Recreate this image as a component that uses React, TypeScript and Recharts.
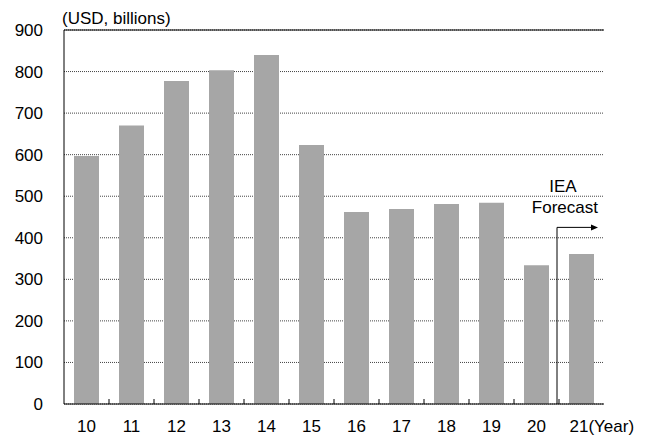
import React from 'react';
import { BarChart, Bar, XAxis, YAxis, CartesianGrid, ReferenceLine } from 'recharts';

const years = ['10', '11', '12', '13', '14', '15', '16', '17', '18', '19', '20', '21'];
const investment = [597, 670, 777, 803, 840, 623, 462, 469, 481, 484, 334, 361];
const yTicks = [0, 100, 200, 300, 400, 500, 600, 700, 800, 900];
const forecastFrom = '21';
const arrowLevel = 425;

const FONT = '"Liberation Sans", Arial, sans-serif';
const W = 654;
const H = 438;
const LEFT = 64;
const RIGHT = 50;
const BAND = (W - LEFT - RIGHT) / years.length;

const data = years.map((y, i) => ({ year: y, value: investment[i] }));

function YearTick(props: any) {
  const { x, y, payload, index } = props;
  const last = index === years.length - 1;
  return (
    <g>
      {index > 0 && (
        <line x1={x - BAND / 2} x2={x - BAND / 2} y1={y} y2={y - 5} stroke="#000" />
      )}
      <text
        x={last ? x - 12 : x}
        y={y + 28}
        textAnchor={last ? 'start' : 'middle'}
        fontSize={17}
        fontFamily={FONT}
        fill="#000"
      >
        {last ? `${payload.value}(Year)` : payload.value}
      </text>
    </g>
  );
}

function ForecastMark(props: any) {
  const { y1, y2 } = props;
  const x = props.x1 - 2;
  const end = x + 41;
  return (
    <g>
      <line x1={x} y1={y1} x2={x} y2={y2} stroke="#000" strokeWidth={1} />
      <line x1={x} y1={y2} x2={end - 6} y2={y2} stroke="#000" strokeWidth={1} />
      <polygon points={`${end},${y2} ${end - 7},${y2 - 3} ${end - 7},${y2 + 3}`} fill="#000" />
      <text x={x + 6} y={y2 - 35} textAnchor="middle" fontSize={17} fontFamily={FONT} fill="#000">IEA</text>
      <text x={end} y={y2 - 14} textAnchor="end" fontSize={17} fontFamily={FONT} fill="#000">Forecast</text>
    </g>
  );
}

export default function App() {
  return (
    <div style={{ position: 'absolute', left: 0, top: 0, width: W, height: H, background: '#fff' }}>
      <BarChart width={W} height={H} data={data} margin={{ top: 30, right: RIGHT, left: 0, bottom: 0 }} barCategoryGap={0}>
        <CartesianGrid vertical={false} stroke="#444" strokeDasharray="1 1" />
        <XAxis
          dataKey="year"
          height={34}
          tickLine={false}
          tickSize={0}
          tickMargin={0}
          axisLine={{ stroke: '#000' }}
          tick={<YearTick />}
          interval={0}
        />
        <YAxis
          domain={[0, 900]}
          ticks={yTicks}
          width={LEFT}
          tickLine={false}
          tickSize={0}
          tickMargin={21}
          axisLine={{ stroke: '#000' }}
          tick={{ fontSize: 17, fill: '#000', fontFamily: FONT }}
          interval={0}
        />
        <YAxis yAxisId="frame" orientation="right" width={0} tick={false} tickLine={false} axisLine={{ stroke: '#000' }} domain={[0, 900]} />
        <ReferenceLine y={900} stroke="#000" />
        <Bar dataKey="value" fill="#a6a6a6" barSize={25} isAnimationActive={false} />
        <ReferenceLine
          segment={[{ x: forecastFrom, y: 0 }, { x: forecastFrom, y: arrowLevel }]}
          position="start"
          shape={<ForecastMark />}
        />
        <text x={62} y={24} fontSize={17} fontFamily={FONT} fill="#000">(USD, billions)</text>
      </BarChart>
    </div>
  );
}
